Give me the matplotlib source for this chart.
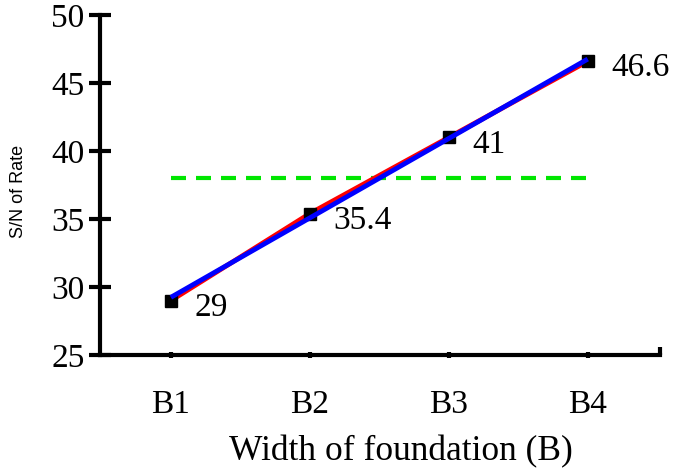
import matplotlib
matplotlib.use("Agg")
import matplotlib.pyplot as plt
import numpy as np

# main effect of foundation width on S/N ratio
levels = ["B1", "B2", "B3", "B4"]
sn_rate = [29.0, 35.4, 41.0, 46.6]
point_labels = ["29", "35.4", "41", "46.6"]
y_ticks = [25, 30, 35, 40, 45, 50]

pos = np.arange(1, len(levels) + 1)

# least-squares trend and overall mean
slope, icpt = np.polyfit(pos, sn_rate, 1)
trend = slope * pos + icpt
mean_sn = np.mean(sn_rate)

SERIF = "Liberation Serif"
SANS = "Liberation Sans"

fig = plt.figure(figsize=(6.8, 4.76), dpi=100)
ax = fig.add_axes([100 / 680, 1 - 355 / 476, 560 / 680, 340 / 476])

# mean line (dashed green)
ax.plot([pos[0], pos[-1]], [mean_sn, mean_sn], color="#00e600", lw=3,
        dashes=(3.6, 2.4), zorder=2)

# measured values with markers
ax.plot(pos, sn_rate, color="red", lw=3.5, marker="s", markersize=8.5,
        markerfacecolor="black", markeredgecolor="black", zorder=3)

# linear trend on top
ax.plot([pos[0], pos[-1]], [trend[0], trend[-1]], color="blue", lw=3.5,
        solid_capstyle="butt", zorder=4)

for x, y, s in zip(pos, sn_rate, point_labels):
    ax.annotate(s, (x, y), xytext=(17, -5), textcoords="offset points",
                ha="left", va="center", fontsize=24, family=SERIF)

ax.set_xlim(0.49, 4.52)
ax.set_ylim(25, 50)
ax.set_yticks(y_ticks)
ax.set_xticks(pos)
ax.set_xticklabels(levels)
ax.set_xticks([4.52], minor=True)

for lbl in ax.get_xticklabels() + ax.get_yticklabels():
    lbl.set_fontfamily(SERIF)
    lbl.set_fontsize(24)

ax.spines["top"].set_visible(False)
ax.spines["right"].set_visible(False)
ax.spines["left"].set_linewidth(3)
ax.spines["bottom"].set_linewidth(3)

ax.tick_params(axis="y", direction="inout", length=16, width=3, pad=3)
ax.tick_params(axis="x", which="major", direction="inout", length=5, width=3, pad=22)
ax.tick_params(axis="x", which="minor", direction="in", length=6, width=3)

ax.set_xlabel("Width of foundation (B)", fontsize=25.5, family=SERIF)
ax.xaxis.set_label_coords(0.5375, -0.235)
ax.set_ylabel("S/N of Rate", fontsize=13, family=SANS)
ax.yaxis.label.set_va("center")
ax.yaxis.set_label_coords(-0.145, 0.48)

fig.savefig("out.png", dpi=100)
